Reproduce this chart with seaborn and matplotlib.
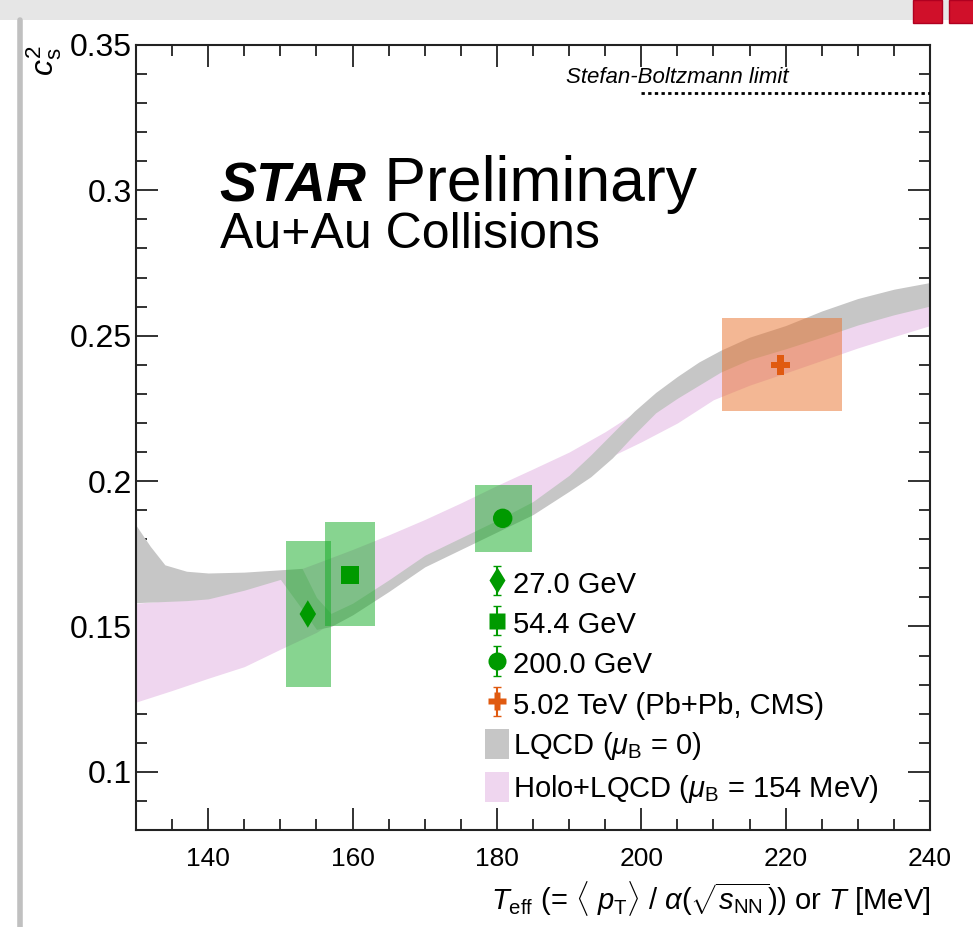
import numpy as np
import matplotlib
matplotlib.use("Agg")
import matplotlib.pyplot as plt
from matplotlib.patches import Patch, Rectangle
from matplotlib.ticker import MultipleLocator
import seaborn as sns

# LQCD (mu_B = 0) band
lqcd_T = [130, 132, 134, 137, 140, 145, 150, 153, 155, 157, 160, 165, 170, 175, 180,
          185, 190, 193, 196, 199, 202, 205, 208, 211, 215, 220, 225, 230, 235, 240]
lqcd_lo = [0.1582, 0.1584, 0.1586, 0.1589, 0.1595, 0.1625, 0.1662, 0.1560, 0.1490, 0.1500,
           0.1540, 0.1620, 0.1705, 0.1765, 0.1825, 0.1885, 0.1965, 0.2015, 0.2080, 0.2160,
           0.2235, 0.2285, 0.2330, 0.2375, 0.2418, 0.2455, 0.2495, 0.2537, 0.2572, 0.2602]
lqcd_hi = [0.1848, 0.1775, 0.1712, 0.1690, 0.1684, 0.1687, 0.1695, 0.1700, 0.1600, 0.1545,
           0.1580, 0.1660, 0.1745, 0.1805, 0.1865, 0.1930, 0.2020, 0.2090, 0.2165, 0.2240,
           0.2305, 0.2360, 0.2410, 0.2450, 0.2495, 0.2535, 0.2585, 0.2628, 0.2660, 0.2683]

# Holo+LQCD (mu_B = 154 MeV) band
holo_T = [130, 135, 140, 145, 150, 155, 160, 165, 170, 175, 180, 185, 190, 195, 200,
          205, 210, 215, 220, 225, 230, 235, 240]
holo_lo = [0.1240, 0.1280, 0.1322, 0.1362, 0.1422, 0.1480, 0.1560, 0.1640, 0.1722, 0.1782,
           0.1842, 0.1900, 0.1985, 0.2075, 0.2135, 0.2200, 0.2280, 0.2330, 0.2372, 0.2415,
           0.2458, 0.2497, 0.2535]
holo_hi = [0.1580, 0.1590, 0.1600, 0.1632, 0.1672, 0.1718, 0.1765, 0.1815, 0.1868, 0.1925,
           0.1985, 0.2042, 0.2100, 0.2170, 0.2250, 0.2320, 0.2390, 0.2440, 0.2480, 0.2520,
           0.2560, 0.2595, 0.2625]

# data points: T_eff, c_s^2 and systematic boxes
labels = ["27.0 GeV", "54.4 GeV", "200.0 GeV", "5.02 TeV (Pb+Pb, CMS)"]
T_eff = [153.8, 159.6, 180.8, 219.3]
cs2 = [0.1543, 0.1677, 0.1872, 0.2400]
box_x_lo = [150.8, 156.2, 177.0, 211.2]
box_x_hi = [157.0, 163.1, 184.9, 227.8]
box_y_lo = [0.1292, 0.1501, 0.1756, 0.2240]
box_y_hi = [0.1793, 0.1859, 0.1986, 0.2562]

sb_limit = 1.0 / 3.0

green = "#009a00"
orange = "#e05a10"
markers = ["d", "s", "o", "P"]
msizes = [14, 13, 14, 14]
pt_colors = [green, green, green, orange]
box_colors = ["#11aa22", "#11aa22", "#11aa22", "#e8702a"]
gray = "#c6c6c6"
pink = "#efd6ef"

sns.set_theme(style="ticks")
plt.rcParams["font.family"] = ["Liberation Sans", "DejaVu Sans"]
plt.rcParams["mathtext.fontset"] = "custom"
plt.rcParams["mathtext.rm"] = "Liberation Sans"
plt.rcParams["mathtext.it"] = "Liberation Sans:italic"
plt.rcParams["mathtext.bf"] = "Liberation Sans:bold"
plt.rcParams["text.color"] = "black"
plt.rcParams["axes.labelcolor"] = "black"
plt.rcParams["xtick.labelcolor"] = "black"
plt.rcParams["ytick.labelcolor"] = "black"

fig = plt.figure(figsize=(9.73, 9.27), dpi=100)
ax = fig.add_axes([0.1398, 0.1046, 0.8160, 0.8469])

# bands
ax.fill_between(holo_T, holo_lo, holo_hi, color=pink, lw=0, zorder=1)
ax.fill_between(lqcd_T, lqcd_lo, lqcd_hi, color=gray, lw=0, zorder=2)

# systematic boxes
for i in range(len(T_eff)):
    ax.add_patch(Rectangle((box_x_lo[i], box_y_lo[i]), box_x_hi[i] - box_x_lo[i],
                           box_y_hi[i] - box_y_lo[i], facecolor=box_colors[i],
                           alpha=0.5, lw=0, zorder=3))

# points
for i in range(len(T_eff)):
    sns.scatterplot(x=[T_eff[i]], y=[cs2[i]], marker=markers[i], s=msizes[i] ** 2,
                    color=pt_colors[i], edgecolor="none", ax=ax, zorder=5)

# Stefan-Boltzmann limit
ax.plot([200, 240], [sb_limit, sb_limit], color="black", ls=(0, (1.2, 1.2)), lw=2, zorder=4)
ax.text(189.6, 0.3368, "Stefan-Boltzmann limit", fontsize=16, style="italic", ha="left",
        va="baseline")

# STAR label
t1 = ax.text(141.6, 0.2960, "STAR", fontsize=40, weight="bold", style="italic",
             va="baseline")
ax.annotate(" Preliminary", xy=(1, 0), xycoords=t1, fontsize=45, va="bottom", ha="left")
ax.text(141.6, 0.2800, "Au+Au Collisions", fontsize=36, va="baseline")

# legend
handles = []
for i in range(len(T_eff)):
    h = ax.errorbar([np.nan], [np.nan], yerr=[0.01], fmt=markers[i], ms=msizes[i] - 1,
                    color=pt_colors[i], mec="none", elinewidth=1.5, capsize=3)
    handles.append(h)
handles.append(Patch(facecolor=gray, edgecolor="none"))
handles.append(Patch(facecolor=pink, edgecolor="none"))
leg_labels = labels + [r"LQCD ($\mu_{\rm B}$ = 0)", r"Holo+LQCD ($\mu_{\rm B}$ = 154 MeV)"]
ax.legend(handles, leg_labels, loc="upper left", bbox_to_anchor=(0.44, 0.334),
          frameon=False, fontsize=21, handlelength=0.8, handleheight=1.2,
          handletextpad=0.15, labelspacing=0.33, borderaxespad=0, borderpad=0)

# axes
ax.set_xlim(130, 240)
ax.set_ylim(0.08, 0.35)
ax.xaxis.set_major_locator(MultipleLocator(20))
ax.xaxis.set_minor_locator(MultipleLocator(5))
ax.set_yticks([0.1, 0.15, 0.2, 0.25, 0.3, 0.35])
ax.set_yticklabels(["0.1", "0.15", "0.2", "0.25", "0.3", "0.35"])
ax.yaxis.set_minor_locator(MultipleLocator(0.01))
ax.tick_params(which="both", direction="in", top=True, right=True, width=1.3,
               color="#222222")
ax.tick_params(which="major", length=16)
ax.tick_params(which="minor", length=8)
ax.tick_params(axis="x", labelsize=19, pad=12)
ax.tick_params(axis="y", labelsize=23, pad=3)
for s in ax.spines.values():
    s.set_linewidth(1.5)
    s.set_color("#222222")

ax.set_xlabel(r"$T_{\rm eff}$ (= $\langle\ p_{\rm T}\rangle$ / $\alpha(\sqrt{s_{\rm NN}})$) or $T$ [MeV]",
              fontsize=21, loc="right", labelpad=6)
ax.set_ylabel(r"$c_{\rm s}^{2}$", fontsize=23, loc="top", labelpad=4)

# screenshot frame around the slide
fig.patches.append(Rectangle((0, 0.978), 1, 0.022, transform=fig.transFigure,
                             facecolor="#e6e6e6", edgecolor="none", zorder=0))
fig.add_artist(plt.Line2D([0.021, 0.021], [0, 0.978], transform=fig.transFigure,
                          color="#c0c0c0", lw=4))
fig.patches.append(Rectangle((0.938, 0.975), 0.03, 0.025, transform=fig.transFigure,
                             facecolor="#d0102a", edgecolor="#b00020", zorder=1))
fig.patches.append(Rectangle((0.975, 0.975), 0.03, 0.025, transform=fig.transFigure,
                             facecolor="#d0102a", edgecolor="#b00020", zorder=1))

fig.savefig("out.png", dpi=100)
